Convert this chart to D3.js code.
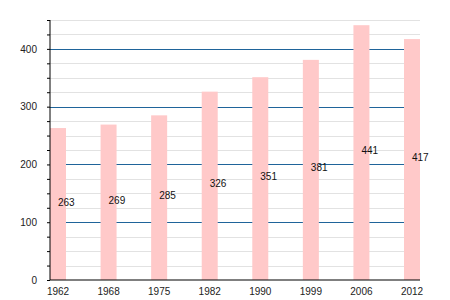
<!DOCTYPE html>
<html>
<head>
<meta charset="utf-8">
<script src="https://cdn.jsdelivr.net/npm/d3@7"></script>
<style>
  body { margin: 0; background: #fff; }
  svg { display: block; font-family: "Liberation Sans", Arial, sans-serif; }
</style>
</head>
<body>
<div id="chart"></div>
<script>
const years = ['1962', '1968', '1975', '1982', '1990', '1999', '2006', '2012'];
const values = [263, 269, 285, 326, 351, 381, 441, 417];
const majorTicks = [0, 100, 200, 300, 400];

const width = 450;
const height = 300;
const margin = { top: 20, right: 30, bottom: 20, left: 50 };
const plotRight = 420;
const barWidth = 16;

const data = years.map((y, i) => ({ year: y, value: values[i] }));

const svg = d3.select('#chart')
  .append('svg')
    .attr('width', width)
    .attr('height', height);

// scales: bands fill the plot, bars 16px wide and flush at both ends
const pad = (plotRight - margin.left - barWidth * years.length) /
  (plotRight - margin.left - barWidth);
const x = d3.scaleBand()
  .domain(years)
  .range([margin.left, plotRight])
  .paddingInner(pad)
  .paddingOuter(0);

const y = d3.scaleLinear()
  .domain([0, 450])
  .range([height - margin.bottom, margin.top]);

// light grid every 25
svg.append('g')
  .selectAll('line')
  .data(d3.range(25, 451, 25).filter(d => d % 100 !== 0))
  .enter()
  .append('line')
    .attr('x1', margin.left)
    .attr('x2', plotRight)
    .attr('y1', d => Math.round(y(d)) + 0.5)
    .attr('y2', d => Math.round(y(d)) + 0.5)
    .attr('stroke', '#e2e2e2')
    .attr('stroke-width', 1);

// major grid
svg.append('g')
  .selectAll('line')
  .data(majorTicks.filter(d => d > 0))
  .enter()
  .append('line')
    .attr('x1', margin.left)
    .attr('x2', plotRight)
    .attr('y1', d => Math.round(y(d)) + 0.5)
    .attr('y2', d => Math.round(y(d)) + 0.5)
    .attr('stroke', '#1f649a')
    .attr('stroke-width', 1);

// bars
svg.append('g')
  .selectAll('rect')
  .data(data)
  .enter()
  .append('rect')
    .attr('x', d => x(d.year))
    .attr('y', d => y(d.value))
    .attr('width', x.bandwidth())
    .attr('height', d => y(0) - y(d.value))
    .attr('fill', '#ffc9c9');

// value labels
svg.append('g')
  .selectAll('text')
  .data(data)
  .enter()
  .append('text')
    .attr('x', d => x(d.year) + x.bandwidth() / 2)
    .attr('y', d => (y(d.value) + y(0)) / 2 - 2)
    .attr('dy', '0.35em')
    .attr('font-size', 10)
    .attr('fill', '#111')
    .text(d => d.value);

// y axis
const axisY = d3.axisLeft(y)
  .tickValues(d3.range(0, 451, 25))
  .tickSize(3)
  .tickPadding(10)
  .tickFormat(d => (d % 100 === 0 ? d : ''));

const gy = svg.append('g')
  .attr('transform', `translate(${margin.left}, 0)`)
  .call(axisY);
gy.select('.domain').attr('stroke', '#000').attr('d', `M0,${y(450)}V${y(0)}`);
gy.selectAll('.tick text').attr('font-size', 10).attr('fill', '#222').attr('font-family', null);

// x axis
const axisX = d3.axisBottom(x)
  .tickSize(0)
  .tickPadding(8);

const gx = svg.append('g')
  .attr('transform', `translate(0, ${y(0)})`)
  .call(axisX);
gx.select('.domain').attr('stroke', '#000').attr('stroke-width', 1.2)
  .attr('d', `M${margin.left},0H${plotRight}`);
gx.selectAll('.tick text').attr('font-size', 10).attr('fill', '#222').attr('font-family', null);
</script>
</body>
</html>
